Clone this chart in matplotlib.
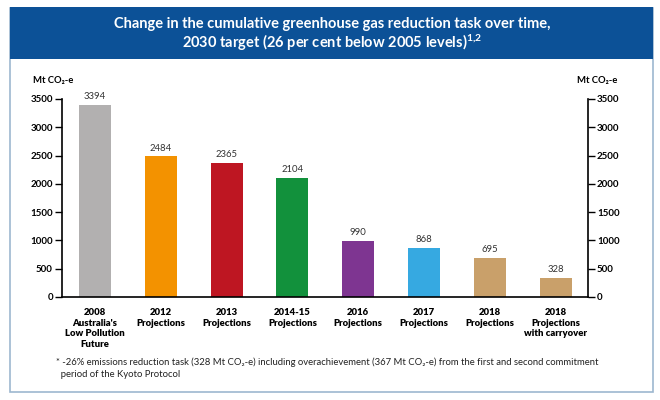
import matplotlib.pyplot as plt
from matplotlib.patches import Rectangle

plt.rcParams['font.family'] = ['Lato', 'DejaVu Sans']
plt.rcParams['font.weight'] = 'bold'
plt.rcParams['mathtext.fontset'] = 'custom'
plt.rcParams['mathtext.rm'] = 'Lato'
plt.rcParams['mathtext.bf'] = 'Lato:bold'
plt.rcParams['mathtext.default'] = 'regular'

# data
categories = ["2008\nAustralia's\nLow Pollution\nFuture", "2012\nProjections", "2013\nProjections",
              "2014-15\nProjections", "2016\nProjections", "2017\nProjections",
              "2018\nProjections", "2018\nProjections\nwith carryover"]
values = [3394, 2484, 2365, 2104, 990, 868, 695, 328]
colors = ["#b2b0b0", "#f39200", "#be1622", "#12913c", "#7e3591", "#36a9e1", "#c9a06a", "#c9a06a"]
yticks = [0, 500, 1000, 1500, 2000, 2500, 3000, 3500]

title_1 = "Change in the cumulative greenhouse gas reduction task over time,"
title_2 = "2030 target (26 per cent below 2005 levels)$^{1{,}2}$"
footnote = ("* -26% emissions reduction task (328 Mt CO₂-e) including overachievement (367 Mt CO₂-e) from the first and second commitment\n"
            "  period of the Kyoto Protocol")

fig = plt.figure(figsize=(6.6, 4.0), dpi=100)
fig.patch.set_facecolor("white")

# outer frame and blue header
frame = Rectangle((10/660, 8/400), 643/660, 384/400, transform=fig.transFigure,
                  facecolor="white", edgecolor="#9db7cf", linewidth=1.2, zorder=-5)
header = Rectangle((10/660, 1 - 59/400), 643/660, 52/400, transform=fig.transFigure,
                   facecolor="#0c5197", edgecolor="none", zorder=-4)
fig.patches.extend([frame, header])
fig.text(332/660, 1 - 24/400, title_1, color="white", fontsize=10.5, fontweight="bold",
         ha="center", va="center")
fig.text(332/660, 1 - 43/400, title_2, color="white", fontsize=10.5, fontweight="bold",
         ha="center", va="center")

ax = fig.add_axes([62/660, 1 - 297/400, 526/660, 198/400])
ax.set_facecolor("none")
x = range(len(values))
ax.bar(x, values, width=0.485, color=colors)
for xi, v in zip(x, values):
    ax.text(xi, v + 70, str(v), ha="center", va="bottom", fontsize=6.8, color="#333333",
            fontweight="normal")

ax.set_xlim(-0.5, 7.49)
ax.set_ylim(0, 3500)
ax.set_yticks(yticks)
ax.tick_params(axis="y", direction="out", length=5, width=1, pad=1.5, labelsize=7,
               left=True, right=True, labelleft=True, labelright=True)
ax.set_xticks(list(x))
ax.set_xticklabels(categories, fontsize=6.8, fontweight="heavy", linespacing=1.22, va="top")
ax.tick_params(axis="x", length=0, pad=8)
ax.spines["top"].set_visible(False)
for s in ["left", "right", "bottom"]:
    ax.spines[s].set_linewidth(1.2)

fig.text(53/660, 1 - 80/400, "Mt CO₂-e", fontsize=6.8, fontweight="bold", ha="center", va="center")
fig.text(597/660, 1 - 80/400, "Mt CO₂-e", fontsize=6.8, fontweight="bold", ha="center", va="center")

fig.text(56/660, 1 - 368/400, footnote, fontsize=6.8, ha="left", va="center", linespacing=1.45,
         color="#222222", fontweight="normal")

fig.savefig("out.png", dpi=100)
